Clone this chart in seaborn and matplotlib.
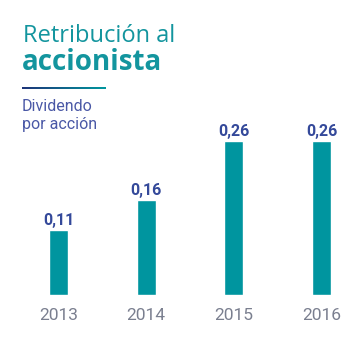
import matplotlib
matplotlib.use("Agg")
import matplotlib.pyplot as plt
import seaborn as sns
import numpy as np
import pandas as pd
from matplotlib.colors import LinearSegmentedColormap

years = ["2013", "2014", "2015", "2016"]
dividend = [0.11, 0.16, 0.26, 0.26]
value_labels = ["0,11", "0,16", "0,26", "0,26"]

TEAL = "#00959f"
TITLE_TEAL = "#13959e"
DARK_BLUE = "#34499a"
MID_BLUE = "#4a58a6"
GRAY = "#7a7f8f"

sns.set_style("white")
plt.rcParams['font.family'] = ['Roboto', 'DejaVu Sans']

W, H = 354, 338
fig = plt.figure(figsize=(W / 100, H / 100), dpi=100)
fig.patch.set_facecolor("white")

def fy(py):
    return 1 - py / H

ax = fig.add_axes([0, (H - 295) / H, 1, 154 / H])
df = pd.DataFrame({"year": years, "value": dividend})
sns.barplot(data=df, x="year", y="value", color=TEAL, saturation=1,
            width=0.217, ax=ax)
ax.set_xlim(-0.667, 3.371)
ax.set_ylim(0, 0.26)
ax.set_xlabel("")
ax.set_ylabel("")
ax.set_yticks([])
for s in ax.spines.values():
    s.set_visible(False)
ax.tick_params(axis="x", length=0, pad=9, labelsize=12.5, labelcolor=GRAY)
ax.patch.set_alpha(0)

for i, (v, lab) in enumerate(zip(dividend, value_labels)):
    ax.annotate(lab, xy=(i, v), xytext=(0, 3.6), textcoords="offset points",
                ha="center", va="baseline", fontsize=11.5, fontweight="bold",
                color=DARK_BLUE, annotation_clip=False)

# Titles
fig.text(23 / W, fy(42.3), "Retribución al", fontsize=17,
         family=["Open Sans", "DejaVu Sans"],
         color=TITLE_TEAL, ha="left", va="baseline")
fig.text(22 / W, fy(70.5), "accionista", fontsize=20, fontweight="bold",
         family=["Open Sans", "DejaVu Sans"],
         color=TITLE_TEAL, ha="left", va="baseline")

# Gradient line
gax = fig.add_axes([22 / W, fy(89.5), (106 - 22) / W, 2.5 / H])
grad = np.linspace(0, 1, 256).reshape(1, -1)
cmap = LinearSegmentedColormap.from_list("g", ["#1e3479", "#00979e"])
gax.imshow(grad, aspect="auto", cmap=cmap)
gax.axis("off")

fig.text(22 / W, fy(111), "Dividendo", fontsize=11.5, color=MID_BLUE,
         ha="left", va="baseline")
fig.text(22 / W, fy(129), "por acción", fontsize=11.5, color=MID_BLUE,
         ha="left", va="baseline")

fig.savefig("out.png", dpi=100, facecolor="white")
